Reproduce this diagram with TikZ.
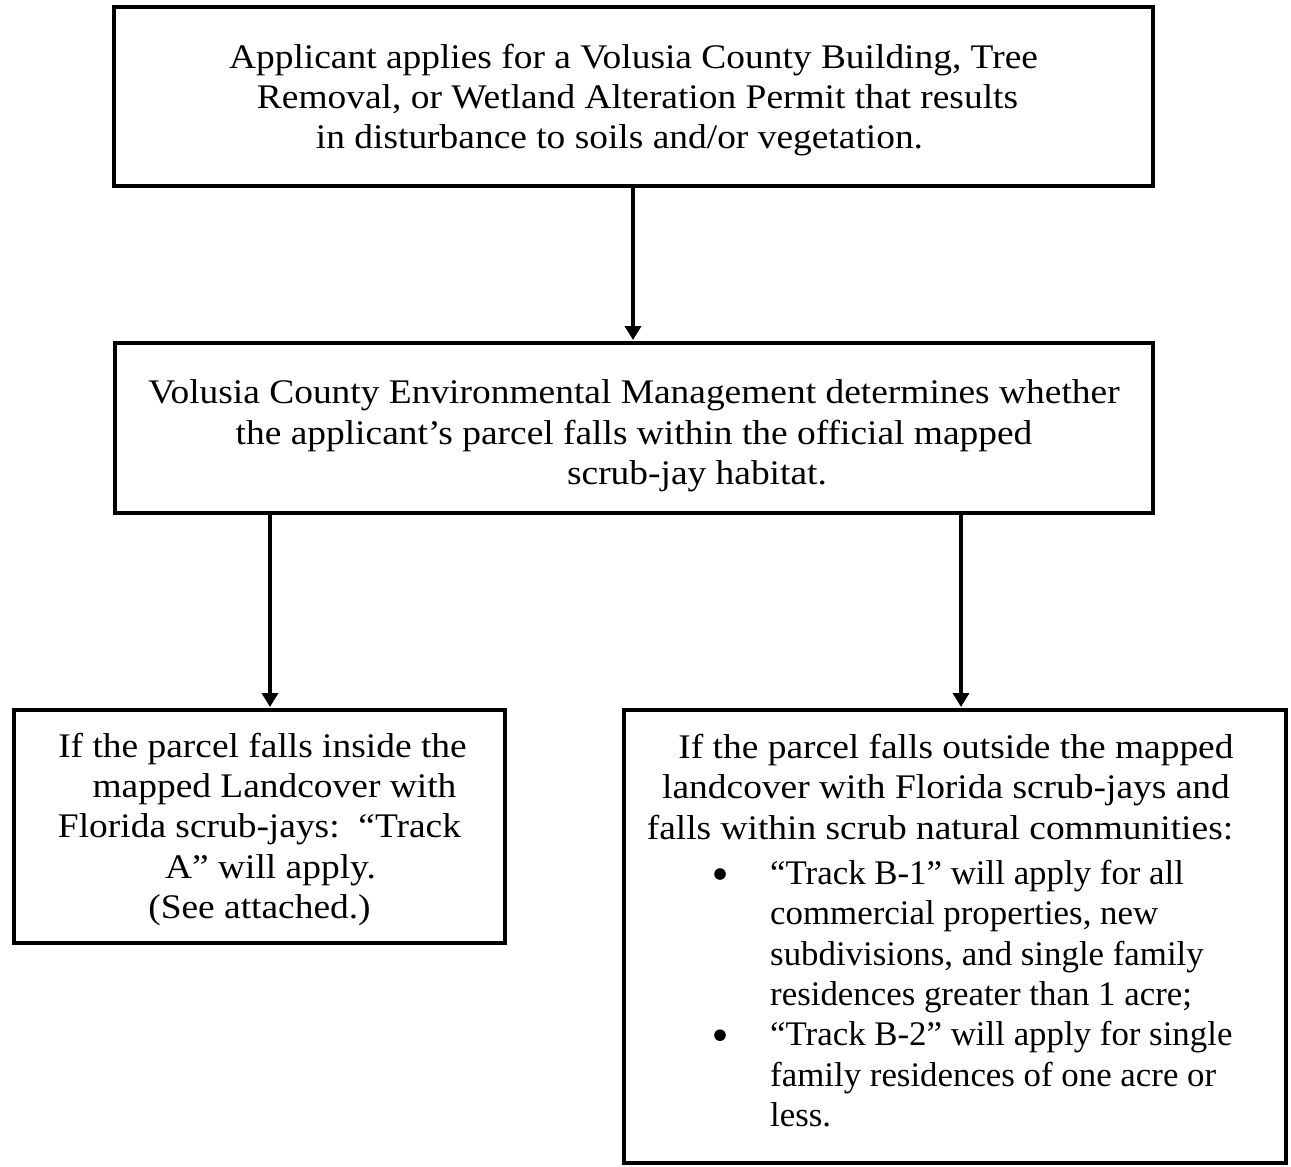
\documentclass[tikz,border=0pt]{standalone}
\usepackage{fontspec}
\setmainfont{Liberation Serif}[FakeStretch=1.085]
\newfontfamily\narrowserif{Liberation Serif}[FakeStretch=1.01]
\usetikzlibrary{arrows.meta}
\begin{document}
\begin{tikzpicture}[x=1pt,y=-1pt,
  box/.style={draw, line width=4pt, inner sep=0pt},
  txt/.style={font=\fontsize{34.5}{40.3}\selectfont, inner sep=0pt},
  listtxt/.style={font=\narrowserif\fontsize{34.5}{40.3}\selectfont, inner sep=0pt},
  bullet/.style={fill=black},
  arr/.style={line width=4pt, -{Triangle[width=16pt,length=14pt]}, shorten >=1pt}]
\useasboundingbox (0,0) rectangle (1291,1167);
% boxes
\node[box, minimum width=1039pt, minimum height=179pt] (b1) at (633.5,96.5) {};
\node[box, minimum width=1038pt, minimum height=170pt] (b2) at (634,428) {};
\node[box, minimum width=491pt, minimum height=233pt] (b3) at (259.5,826.5) {};
\node[box, minimum width=662pt, minimum height=453pt] (b4) at (955,936.5) {};
% texts
\node[txt, align=center] (t1) at (633.5,100) {Applicant applies for a Volusia County Building, Tree\\
\hspace*{8pt}Removal, or Wetland Alteration Permit that results\\
in disturbance to soils and/or vegetation.\hspace*{28pt}};
\node[txt, align=center] (t2) at (634,436) {Volusia County Environmental Management determines whether\\
the applicant’s parcel falls within the official mapped\\
\hspace*{126pt}scrub-jay habitat.};
\node[txt, align=center] (t3) at (259.5,829.5) {\hspace*{6pt}If the parcel falls inside the\\
\hspace*{30pt}mapped Landcover with\\
Florida scrub-jays:\ \ “Track\\
\hspace*{22pt}A” will apply.\\
(See attached.)};
\node[txt, align=center, anchor=north] (t4) at (940,734) {\hspace*{32pt}If the parcel falls outside the mapped\\
\hspace*{12pt}landcover with Florida scrub-jays and\\
falls within scrub natural communities:};
\node[listtxt, align=left, anchor=north west] (t5) at (770,860) {“Track B-1” will apply for all\\
commercial properties, new\\
subdivisions, and single family\\
residences greater than 1 acre;\\
“Track B-2” will apply for single\\
family residences of one acre or\\
less.};
\fill[bullet] ([shift={(-50,14)}]t5.north west) circle (5.8pt);
\fill[bullet] ([shift={(-50,175.2)}]t5.north west) circle (5.8pt);
% connectors
\coordinate (xa) at (633,0);
\coordinate (xl) at (270,0);
\coordinate (xr) at (961,0);
\draw[arr] (b1.south -| xa) -- (b2.north -| xa);
\draw[arr] (b2.south -| xl) -- (b3.north -| xl);
\draw[arr] (b2.south -| xr) -- (b4.north -| xr);
\end{tikzpicture}
\end{document}
